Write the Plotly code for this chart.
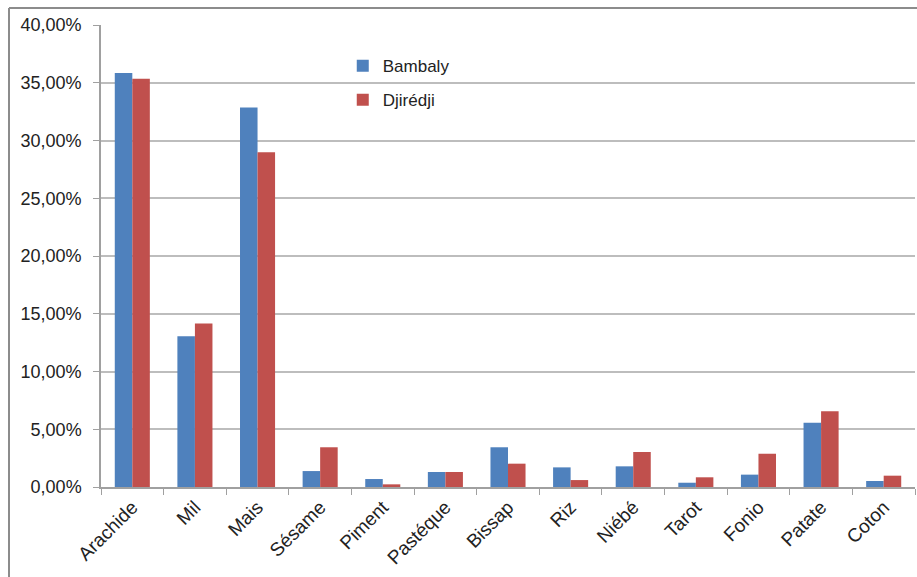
import plotly.graph_objects as go

# Cultures et parts (%) par village
cultures = ["Arachide", "Mil", "Mais", "Sésame", "Piment", "Pastéque", "Bissap",
            "Riz", "Niébé", "Tarot", "Fonio", "Patate", "Coton"]
bambaly = [35.85, 13.05, 32.85, 1.38, 0.69, 1.30, 3.44, 1.70, 1.79, 0.37, 1.07, 5.57, 0.52]
djiredji = [35.35, 14.15, 28.98, 3.44, 0.23, 1.30, 2.02, 0.60, 3.03, 0.84, 2.88, 6.55, 0.98]

font_family = "Liberation Sans, Arial, sans-serif"

fig = go.Figure()
fig.add_trace(go.Bar(x=cultures, y=bambaly, name="Bambaly", legendgroup="a",
                     marker=dict(color="#4F81BD", line=dict(width=0))))
fig.add_trace(go.Bar(x=cultures, y=djiredji, name="Djirédji", legendgroup="b",
                     marker=dict(color="#C0504D", line=dict(width=0))))

fig.update_layout(
    width=917, height=577,
    margin=dict(l=101, r=2, t=25, b=90),
    paper_bgcolor="white", plot_bgcolor="white",
    separators=", ",
    barmode="group", bargap=0.44, bargroupgap=0,
    font=dict(family=font_family, size=17, color="#222222"),
    legend=dict(x=0.297, y=0.95, xanchor="left", yanchor="top",
                bgcolor="rgba(0,0,0,0)", font=dict(size=17, color="#222222"),
                tracegroupgap=9),
    showlegend=True,
)
fig.update_yaxes(
    range=[0, 40], dtick=5, tickformat=".2f", ticksuffix="%",
    tickfont=dict(size=18),
    showgrid=True, gridcolor="#BDBDBD", gridwidth=1.5,
    showline=True, linecolor="#A0A0A0", linewidth=1.5,
    ticks="outside", ticklen=6, tickcolor="#A0A0A0",
    zeroline=False, ticklabelstandoff=8,
)
fig.update_xaxes(
    tickangle=-45, tickson="boundaries", ticks="outside", ticklen=6,
    tickfont=dict(size=19),
    tickcolor="#A0A0A0", showline=True, linecolor="#A0A0A0", linewidth=1.5,
    showgrid=False,
)

# cadre extérieur du graphique
frame = dict(type="line", xref="paper", yref="paper",
             line=dict(color="#8C8C8C", width=2))
fig.add_shape(**frame, x0=(9 - 101) / 814, x1=(9 - 101) / 814, y0=(487 - 8) / 462, y1=-0.3)
fig.add_shape(**frame, x0=(9 - 101) / 814, x1=1.01, y0=(487 - 8) / 462, y1=(487 - 8) / 462)

fig.write_html("out.html")
